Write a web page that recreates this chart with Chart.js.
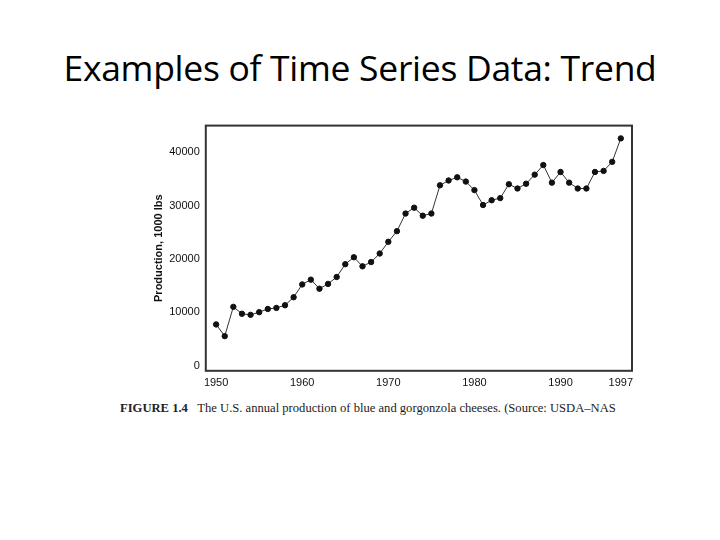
<!DOCTYPE html><html><head><meta charset="utf-8">
<script src="https://cdn.jsdelivr.net/npm/chart.js@4"></script>
<style>body{margin:0;width:720px;height:540px;background:#fff;position:relative;font-family:Carlito,'Liberation Sans',sans-serif}
#t{position:absolute;top:43px;left:0;width:720px;text-align:center;font-size:35.5px;color:#000;font-family:'Open Sans','Liberation Sans',sans-serif;font-weight:400;letter-spacing:-0.3px}
#c{position:absolute;left:150px;top:117px;width:490px;height:275px}
#cap{position:absolute;left:120px;top:401px;font-family:'Liberation Serif',serif;font-size:12.6px;color:#222;letter-spacing:0px}</style></head><body>
<div id="t">Examples of Time Series Data: Trend</div>
<div id="c"><canvas id="cv"></canvas></div>
<div id="cap"><b>FIGURE 1.4</b>&nbsp;&nbsp;&nbsp;The U.S. annual production of blue and gorgonzola cheeses. (Source: USDA–NAS</div>
<script>
const years=[];for(let y=1950;y<=1997;y++)years.push(y);
const production=[7700,5500,11000,9700,9500,10000,10600,10800,11300,12800,15200,16100,14400,15300,16600,19000,20300,18600,19400,21000,23200,25200,28500,29600,28100,28500,33800,34700,35300,34500,32900,30100,31000,31400,34000,33200,34100,35800,37600,34300,36300,34300,33200,33200,36300,36500,38200,42600];
const xTicks=[1950,1960,1970,1980,1990,1997];
const yTicks=[0,10000,20000,30000,40000];
const boxPlugin={id:'box',afterDraw(c){const a=c.chartArea,x=c.ctx;x.save();x.strokeStyle='#333';x.lineWidth=2;x.strokeRect(a.left,a.top,a.right-a.left,a.bottom-a.top);x.restore();}};
new Chart(document.getElementById('cv'),{type:'line',data:{datasets:[{data:years.map((y,i)=>({x:y,y:production[i]})),borderColor:'#333',borderWidth:1,pointRadius:2.7,pointBackgroundColor:'#111',pointBorderColor:'#111',tension:0}]},
options:{responsive:true,maintainAspectRatio:false,animation:false,layout:{padding:{top:7,right:8}},plugins:{legend:{display:false},tooltip:{enabled:false}},
scales:{x:{type:'linear',min:1948.8,max:1998.3,afterBuildTicks(s){s.ticks=xTicks.map(v=>({value:v}));},grid:{display:false,drawTicks:true,tickLength:4},border:{display:false},ticks:{color:'#111',font:{size:11},padding:2,callback:v=>String(v)}},
y:{min:-1000,max:45000,afterBuildTicks(s){s.ticks=yTicks.map(v=>({value:v}));},grid:{display:false,tickLength:4},border:{display:false},ticks:{color:'#111',font:{size:11},padding:2,callback:v=>String(v)},title:{display:true,text:'Production, 1000 lbs',font:{size:11,weight:'bold'},color:'#111',padding:2}}}},plugins:[boxPlugin]});
</script></body></html>
